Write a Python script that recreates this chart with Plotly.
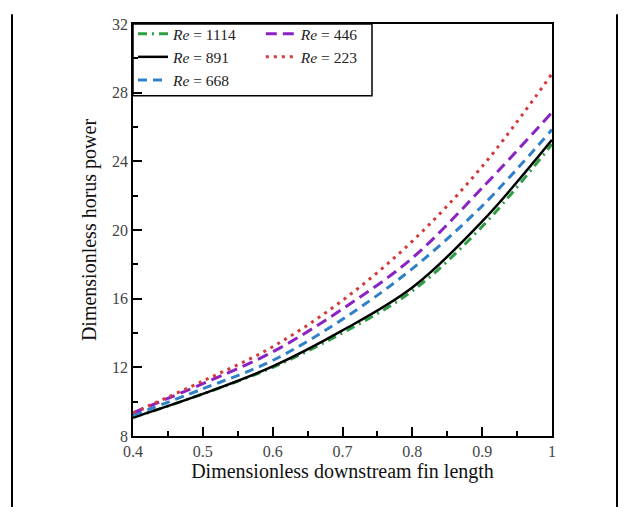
import plotly.graph_objects as go

x_vals = [0.4, 0.5, 0.6, 0.7, 0.8, 0.9, 1.0]
re_1114 = [9.07, 10.45, 12.00, 14.00, 16.45, 20.20, 25.00]
re_891 = [9.07, 10.45, 12.05, 14.15, 16.65, 20.50, 25.25]
re_668 = [9.20, 10.75, 12.40, 14.80, 17.75, 21.40, 25.85]
re_446 = [9.35, 11.05, 12.90, 15.40, 18.37, 22.45, 26.85]
re_223 = [9.35, 11.20, 13.20, 15.90, 19.35, 23.70, 29.10]

x_ticks = [0.4, 0.5, 0.6, 0.7, 0.8, 0.9, 1.0]
x_tick_text = ["0.4", "0.5", "0.6", "0.7", "0.8", "0.9", "1"]
y_ticks = [8, 12, 16, 20, 24, 28, 32]

series = [
    ("<i>Re</i> = 1114", re_1114, "#2f9e44", "9px,5px,2px,5px", 3, "legend"),
    ("<i>Re</i> = 891", re_891, "#000000", "solid", 2.5, "legend"),
    ("<i>Re</i> = 668", re_668, "#2f80c8", "9px,6px", 3, "legend"),
    ("<i>Re</i> = 446", re_446, "#8a22c4", "11px,6px", 3, "legend2"),
    ("<i>Re</i> = 223", re_223, "#d23a3a", "3px,5px", 3, "legend2"),
]

fig = go.Figure()
for name, ys, color, dash, w, lg in series:
    fig.add_trace(go.Scatter(
        x=x_vals, y=ys, mode="lines", name=name, legend=lg,
        line=dict(color=color, dash=dash, width=w, shape="spline", smoothing=1.0),
    ))

# page body has an 8px margin: figure placed so plot area sits at x 133-552, y 17-436
serif = "Liberation Serif, Times New Roman, serif"
PL, PT, PW, PH = 125, 9, 419, 419
W, H = 613, 499

def px_x(px):
    return (px - 8 - PL) / PW

def px_y(py):
    return (PT + PH - (py - 8)) / PH

fig.update_layout(
    width=W, height=H,
    margin=dict(l=PL, r=W - PL - PW, t=PT, b=H - PT - PH),
    paper_bgcolor="white", plot_bgcolor="white",
    font=dict(family=serif, color="#222"),
    showlegend=True,
    legend=dict(x=0.0, y=px_y(10), xanchor="left", yanchor="top",
                bgcolor="rgba(0,0,0,0)", borderwidth=0,
                font=dict(family=serif, size=15.5, color="#222"),
                tracegroupgap=0, itemwidth=30),
    legend2=dict(x=0.305, y=px_y(10), xanchor="left", yanchor="top",
                 bgcolor="rgba(0,0,0,0)", borderwidth=0,
                 font=dict(family=serif, size=15.5, color="#222"),
                 tracegroupgap=0, itemwidth=30),
    xaxis=dict(
        range=[0.4, 1.0], tickvals=x_ticks, ticktext=x_tick_text,
        ticks="inside", ticklen=9, tickwidth=1.5, tickcolor="black",
        minor=dict(dtick=0.05, ticks="inside", ticklen=5, tickwidth=1.5, tickcolor="black"),
        showline=True, linecolor="black", linewidth=1.5, mirror=True,
        showgrid=False, zeroline=False,
        tickfont=dict(family=serif, size=16, color="#444"),
        title=dict(text="Dimensionless downstream fin length",
                   font=dict(family=serif, size=20, color="#111"), standoff=2),
    ),
    yaxis=dict(
        range=[8, 32], tickvals=y_ticks,
        ticks="inside", ticklen=9, tickwidth=1.5, tickcolor="black",
        minor=dict(dtick=2, ticks="inside", ticklen=5, tickwidth=1.5, tickcolor="black"),
        showline=True, linecolor="black", linewidth=1.5, mirror=True,
        showgrid=False, zeroline=False,
        tickfont=dict(family=serif, size=16, color="#444"),
        title=dict(text="Dimensionless horus power",
                   font=dict(family=serif, size=20, color="#111"), standoff=10),
    ),
    shapes=[
        dict(type="rect", xref="paper", yref="paper",
             x0=0, x1=px_x(372), y0=px_y(90), y1=1,
             line=dict(color="black", width=1.5)),
        dict(type="line", xref="paper", yref="paper",
             x0=px_x(12), x1=px_x(12), y0=px_y(7), y1=px_y(520),
             line=dict(color="black", width=2)),
        dict(type="line", xref="paper", yref="paper",
             x0=px_x(617), x1=px_x(617), y0=px_y(7), y1=px_y(520),
             line=dict(color="black", width=2)),
    ],
)

fig.write_html("out.html")
